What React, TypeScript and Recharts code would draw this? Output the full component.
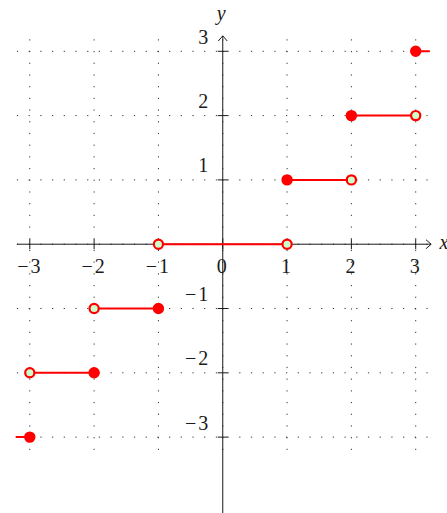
import { ComposedChart, Line, XAxis, YAxis, ReferenceLine } from 'recharts'

type Mark = 'open' | 'closed' | 'none'

// staircase pieces: level, where each piece starts/ends, and the end markers
const levels = [-3, -2, -1, 0, 1, 2, 3]
const segStart = [-3.22, -3, -2, -1, 1, 2, 3]
const segEnd = [-3, -2, -1, 1, 2, 3, 3.22]
const startMark: Mark[] = ['none', 'open', 'open', 'open', 'closed', 'closed', 'closed']
const endMark: Mark[] = ['closed', 'closed', 'closed', 'open', 'open', 'open', 'none']

const xTicks = [-3, -2, -1, 0, 1, 2, 3]
const yTicks = [-3, -2, -1, 1, 2, 3]
const gridValues = [-3, -2, -1, 0, 1, 2, 3]

const X_DOMAIN: [number, number] = [-3.3, 3.3]
const Y_DOMAIN: [number, number] = [-4.18, 3.3]
const GRID_EXTENT = 3.2
const ARROW_TIP = 3.24
const ARROW_BACK = 0.08
const ARROW_SPREAD = 0.07
const TICK_HALF = 0.078

const RED = '#ff0000'
const OPEN_FILL = '#ccffcc'
const INK = '#1a1a1a'
const FONT = "'Liberation Serif', 'DejaVu Serif', serif"

const fmt = (v: number) => (v < 0 ? `\u2212${Math.abs(v)}` : `${v}`)

const segments = levels.map((y, i) => [
  { x: segStart[i], y, mark: startMark[i] },
  { x: segEnd[i], y, mark: endMark[i] },
])

const textStyle = { fontFamily: FONT, fontSize: 20, fill: INK }

const centerOf = (vb: any) => ({ cx: vb.x + vb.width / 2, cy: vb.y + vb.height / 2 })

const xTickLabel = (text: string) => (props: any) => {
  const { cx, cy } = centerOf(props.viewBox)
  return (
    <text x={cx} y={cy + 28.5} textAnchor="middle" letterSpacing={2} {...textStyle}>
      {text}
    </text>
  )
}

const yTickLabel = (text: string) => (props: any) => {
  const { cx, cy } = centerOf(props.viewBox)
  return (
    <text x={cx - 12.5} y={cy - 7.5} textAnchor="end" letterSpacing={2} {...textStyle}>
      {text}
    </text>
  )
}

const xAxisName = (props: any) => {
  const vb = props.viewBox
  return (
    <text x={vb.x + vb.width + 11} y={vb.y + 5} fontStyle="italic" {...textStyle}>
      x
    </text>
  )
}

const yAxisName = (props: any) => {
  const vb = props.viewBox
  return (
    <text x={vb.x - 1.5} y={vb.y - 18} textAnchor="middle" fontStyle="italic" {...textStyle}>
      y
    </text>
  )
}

const renderMark = (props: any) => {
  const { cx, cy, payload, index } = props
  const key = `mark-${index}`
  if (payload.mark === 'none') return <g key={key} />
  const fill = payload.mark === 'closed' ? RED : OPEN_FILL
  return <circle key={key} cx={cx} cy={cy} r={4.6} fill={fill} stroke={RED} strokeWidth={2.2} />
}

const gridProps = { stroke: '#333', strokeWidth: 1, strokeDasharray: '1.2 10.5', ifOverflow: 'visible' as const }
const axisProps = { stroke: INK, strokeWidth: 1, ifOverflow: 'visible' as const }

export default function App() {
  return (
    <div style={{ position: 'absolute', left: 0, top: 0, width: 447, height: 513, background: '#fff' }}>
      <ComposedChart
        width={447}
        height={513}
        margin={{ top: 32, right: 12, bottom: 0, left: 10.5 }}
      >
        <XAxis type="number" dataKey="x" domain={X_DOMAIN} allowDataOverflow hide />
        <YAxis type="number" dataKey="y" domain={Y_DOMAIN} allowDataOverflow hide />

        {gridValues.map((v) => (
          <ReferenceLine
            key={`gv-${v}`}
            segment={[{ x: v, y: -GRID_EXTENT }, { x: v, y: GRID_EXTENT }]}
            {...gridProps}
          />
        ))}
        {gridValues.map((v) => (
          <ReferenceLine
            key={`gh-${v}`}
            segment={[{ x: -GRID_EXTENT, y: v }, { x: GRID_EXTENT, y: v }]}
            {...gridProps}
          />
        ))}

        {/* axes with arrow heads */}
        <ReferenceLine
          segment={[{ x: -GRID_EXTENT, y: 0 }, { x: GRID_EXTENT, y: 0 }]}
          {...axisProps}
          label={{ content: xAxisName }}
        />
        <ReferenceLine
          segment={[{ x: 0, y: Y_DOMAIN[0] }, { x: 0, y: GRID_EXTENT }]}
          {...axisProps}
          label={{ content: yAxisName }}
        />
        <ReferenceLine segment={[{ x: GRID_EXTENT, y: 0 }, { x: ARROW_TIP, y: 0 }]} {...axisProps} />
        <ReferenceLine segment={[{ x: ARROW_TIP - ARROW_BACK, y: ARROW_SPREAD }, { x: ARROW_TIP, y: 0 }]} {...axisProps} />
        <ReferenceLine segment={[{ x: ARROW_TIP - ARROW_BACK, y: -ARROW_SPREAD }, { x: ARROW_TIP, y: 0 }]} {...axisProps} />
        <ReferenceLine segment={[{ x: 0, y: GRID_EXTENT }, { x: 0, y: ARROW_TIP }]} {...axisProps} />
        <ReferenceLine segment={[{ x: ARROW_SPREAD, y: ARROW_TIP - ARROW_BACK }, { x: 0, y: ARROW_TIP }]} {...axisProps} />
        <ReferenceLine segment={[{ x: -ARROW_SPREAD, y: ARROW_TIP - ARROW_BACK }, { x: 0, y: ARROW_TIP }]} {...axisProps} />

        {/* tick marks and labels */}
        {xTicks.map((t) => (
          <ReferenceLine
            key={`xt-${t}`}
            segment={[{ x: t, y: -TICK_HALF }, { x: t, y: TICK_HALF }]}
            {...axisProps}
            label={{ content: xTickLabel(fmt(t)) }}
          />
        ))}
        {yTicks.map((t) => (
          <ReferenceLine
            key={`yt-${t}`}
            segment={[{ x: -TICK_HALF, y: t }, { x: TICK_HALF, y: t }]}
            {...axisProps}
            label={{ content: yTickLabel(fmt(t)) }}
          />
        ))}

        {segments.map((seg, i) => (
          <Line
            key={`step-${i}`}
            data={seg}
            dataKey="y"
            type="linear"
            stroke={RED}
            strokeWidth={2}
            dot={renderMark}
            activeDot={false}
            isAnimationActive={false}
          />
        ))}
      </ComposedChart>
    </div>
  )
}
